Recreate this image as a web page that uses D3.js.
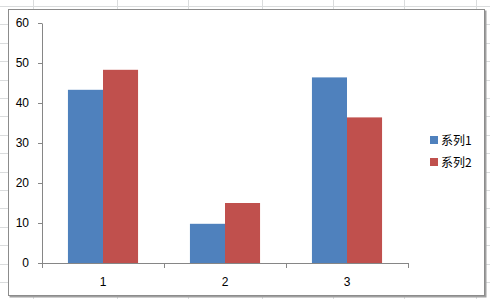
<!DOCTYPE html>
<html>
<head>
<meta charset="utf-8">
<script src="https://cdn.jsdelivr.net/npm/d3@7"></script>
<style>
  body { margin: 0; background: #fff; }
  svg { display: block; }
</style>
</head>
<body>
<svg width="490" height="299"></svg>
<script>
// chart data
var categories = ["1", "2", "3"];
var seriesNames = ["系列1", "系列2"];
var series1 = [43.3, 9.8, 46.4];
var series2 = [48.3, 15, 36.4];
var yTicks = [0, 10, 20, 30, 40, 50, 60];
var colors = ["#4F81BD", "#C0504D"];

var svg = d3.select("svg");
var W = 490, H = 299;

// spreadsheet grid behind the chart
var sheet = svg.append("g").attr("stroke", "#dadcdd").attr("stroke-width", 1);
[33, 117, 188, 262, 333, 404, 476].forEach(function (x) {
    sheet.append("line").attr("x1", x + 0.5).attr("x2", x + 0.5).attr("y1", 0).attr("y2", H);
});
for (var yy = 6; yy < H; yy += 18.4) {
    sheet.append("line").attr("x1", 0).attr("x2", W).attr("y1", Math.round(yy) + 0.5).attr("y2", Math.round(yy) + 0.5);
}

// chart area
svg.append("rect")
    .attr("x", 9.5).attr("y", 10.5)
    .attr("width", 477).attr("height", 287)
    .attr("fill", "#a0a0a0");
svg.append("rect")
    .attr("x", 8.5).attr("y", 9.5)
    .attr("width", 476).attr("height", 286)
    .attr("fill", "#fff")
    .attr("stroke", "#8c8c8c");

var margin = {left: 42, top: 23},
    width = 366,
    height = 240;

var g = svg.append("g").attr("transform", "translate(" + margin.left + "," + margin.top + ")");

var x0 = d3.scaleBand().domain(categories).range([0, width]).paddingInner(0).paddingOuter(0);
var x1 = d3.scaleBand().domain(seriesNames).range([0, x0.bandwidth()]).paddingInner(0).paddingOuter(0.74);
var y = d3.scaleLinear().domain([0, 60]).range([height, 0]);

var data = categories.map(function (c, i) {
    return {cat: c, vals: [
        {name: seriesNames[0], v: series1[i], color: colors[0]},
        {name: seriesNames[1], v: series2[i], color: colors[1]}
    ]};
});

g.selectAll(".cat")
    .data(data)
    .enter()
    .append("g")
    .attr("class", "cat")
    .attr("transform", function (d) { return "translate(" + x0(d.cat) + ",0)"; })
    .selectAll("rect")
    .data(function (d) { return d.vals; })
    .enter()
    .append("rect")
    .attr("x", function (d) { return x1(d.name); })
    .attr("y", function (d) { return y(d.v); })
    .attr("width", x1.bandwidth())
    .attr("height", function (d) { return height - y(d.v); })
    .attr("fill", function (d) { return d.color; });

// y axis
var yAxis = g.append("g")
    .call(d3.axisLeft(y).tickValues(yTicks).tickSize(4).tickPadding(9).tickSizeOuter(0));
yAxis.select(".domain").attr("stroke", "#868686");
yAxis.selectAll(".tick line").attr("stroke", "#868686");
yAxis.selectAll("text")
    .attr("font-family", "Liberation Sans, Arial, sans-serif")
    .attr("font-size", "12px")
    .attr("fill", "#000");

// x axis with tick marks on category boundaries
var xAxis = g.append("g").attr("transform", "translate(0," + height + ")");
xAxis.append("line")
    .attr("x1", 0).attr("x2", width)
    .attr("y1", 0.5).attr("y2", 0.5)
    .attr("stroke", "#868686");
xAxis.selectAll(".xt")
    .data(categories.concat(["end"]))
    .enter()
    .append("line")
    .attr("x1", function (d, i) { return Math.round(i * x0.step()) + 0.5; })
    .attr("x2", function (d, i) { return Math.round(i * x0.step()) + 0.5; })
    .attr("y1", 0).attr("y2", 5)
    .attr("stroke", "#868686");
xAxis.selectAll(".xl")
    .data(categories)
    .enter()
    .append("text")
    .attr("x", function (d) { return x0(d) + x0.bandwidth() / 2; })
    .attr("y", 23)
    .attr("text-anchor", "middle")
    .attr("font-family", "Liberation Sans, Arial, sans-serif")
    .attr("font-size", "12px")
    .text(function (d) { return d; });

// legend
var legend = svg.append("g").attr("transform", "translate(430,136)");
seriesNames.forEach(function (n, i) {
    var row = legend.append("g").attr("transform", "translate(0," + (i * 22) + ")");
    row.append("rect").attr("x", 0).attr("y", 0).attr("width", 8).attr("height", 8).attr("fill", colors[i]);
    row.append("text")
        .attr("x", 11).attr("y", 8.5)
        .attr("font-family", "Noto Sans CJK SC, sans-serif")
        .attr("font-size", "12px")
        .text(n);
});
</script>
</body>
</html>
